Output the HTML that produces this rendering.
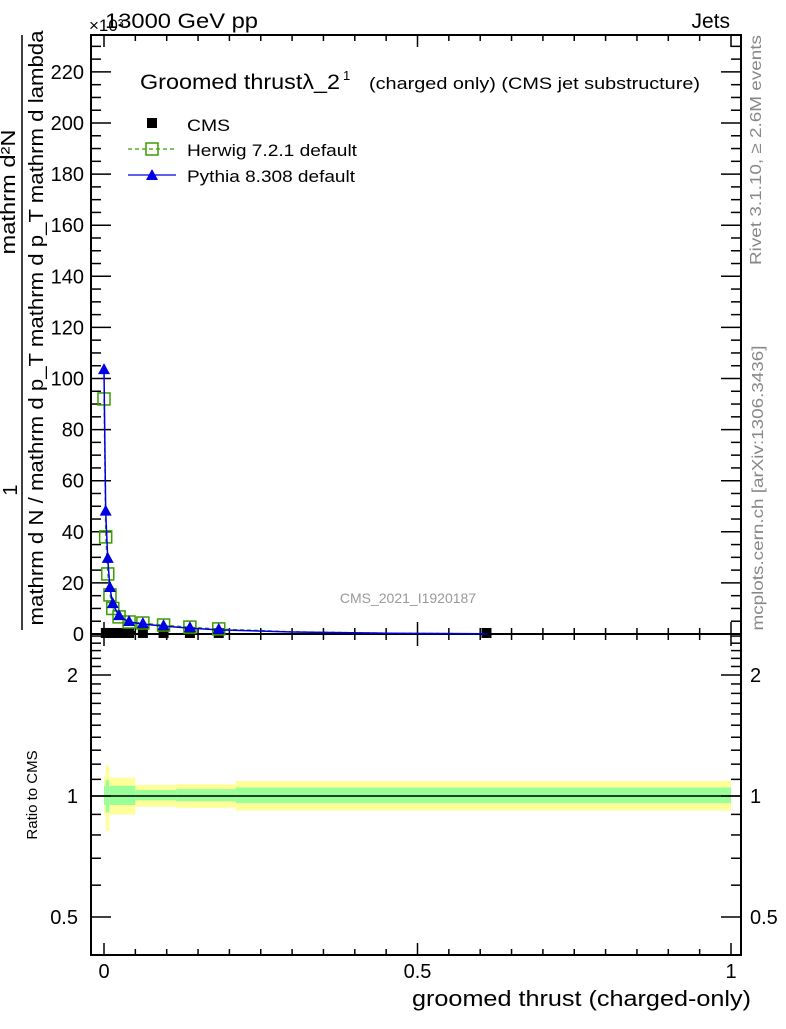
<!DOCTYPE html>
<html><head><meta charset="utf-8"><style>
body{margin:0;background:#fff;width:786px;height:1024px;overflow:hidden}
svg text{font-family:"Liberation Sans",sans-serif}
</style></head><body>
<svg id="c" width="786" height="1024">
<rect x="91" y="35" width="650" height="920" fill="none" stroke="#000" stroke-width="2"/>
<line x1="91" y1="634" x2="741" y2="634" stroke="#000" stroke-width="2"/>
<g id="ratioBands"></g>
<line id="ratioOne" x1="91" x2="741" stroke="#000" stroke-width="1.5"/>
<g id="axes"></g>
<g id="series"></g>
<text x="105" y="28" font-size="21" textLength="153" lengthAdjust="spacingAndGlyphs">13000 GeV pp</text>
<text x="89" y="31" font-size="17">×10³</text>
<text x="730" y="28" font-size="21" text-anchor="end">Jets</text>
<text x="140" y="89" font-size="21" textLength="200" lengthAdjust="spacingAndGlyphs">Groomed thrustλ_2</text>
<text x="343" y="80" font-size="13">1</text>
<text x="369" y="89" font-size="17" textLength="331" lengthAdjust="spacingAndGlyphs">(charged only) (CMS jet substructure)</text>
<g>
<rect x="147" y="118" width="10" height="10" fill="#000"/>
<text x="187" y="131" font-size="17" textLength="43" lengthAdjust="spacingAndGlyphs">CMS</text>
<line x1="128" x2="176" y1="149" y2="149" stroke="#3a9d00" stroke-dasharray="4,3" stroke-width="1.2"/>
<rect x="146" y="143" width="12" height="12" fill="none" stroke="#3a9d00" stroke-width="1.5"/>
<text x="187" y="156" font-size="17" textLength="170" lengthAdjust="spacingAndGlyphs">Herwig 7.2.1 default</text>
<line x1="128" x2="176" y1="175" y2="175" stroke="#0000e0" stroke-width="1.2"/>
<polygon points="152,169 158,180 146,180" fill="#0000e0"/>
<text x="187" y="182" font-size="17" textLength="168" lengthAdjust="spacingAndGlyphs">Pythia 8.308 default</text>
</g>
<text x="408" y="603" font-size="14" fill="#999" text-anchor="middle">CMS_2021_I1920187</text>
<text transform="translate(761,150) rotate(-90)" font-size="16" fill="#888" text-anchor="middle" textLength="230" lengthAdjust="spacingAndGlyphs">Rivet 3.1.10, ≥ 2.6M events</text>
<text transform="translate(763,488) rotate(-90)" font-size="16" fill="#888" text-anchor="middle" textLength="285" lengthAdjust="spacingAndGlyphs">mcplots.cern.ch [arXiv:1306.3436]</text>
<g>
<text transform="translate(17,490) rotate(-90)" font-size="20" text-anchor="middle">1</text>
<line x1="22" x2="22" y1="35" y2="630" stroke="#000" stroke-width="1.5"/>
<text transform="translate(43,328) rotate(-90)" font-size="20" text-anchor="middle" textLength="595" lengthAdjust="spacingAndGlyphs">mathrm d N / mathrm d p_T mathrm d p_T mathrm d lambda</text>
<text transform="translate(15,192) rotate(-90)" font-size="20" text-anchor="middle" textLength="125" lengthAdjust="spacingAndGlyphs">mathrm d²N</text>
</g>
<text transform="translate(37,795) rotate(-90)" font-size="15" text-anchor="middle">Ratio to CMS</text>
<text x="751" y="1006" font-size="22" text-anchor="end" textLength="339" lengthAdjust="spacingAndGlyphs">groomed thrust (charged-only)</text>
</svg>
<script>
const mcX = [0.0, 0.0027, 0.006, 0.0095, 0.014, 0.024, 0.04, 0.062, 0.095, 0.137, 0.183, 0.3, 0.45, 0.61];
const pythiaY = [103.3, 47.9, 29.4, 18.0, 11.7, 7.0, 4.7, 3.9, 3.1, 2.3, 1.6, 0.8, 0.3, 0.1];
const herwigY = [92, 38, 23.5, 15.3, 10.0, 6.7, 4.7, 4.3, 3.5, 2.7, 2.0, 0.9, 0.35, 0.12];
const cmsX = [0.003, 0.01, 0.02, 0.03, 0.04, 0.062, 0.095, 0.137, 0.183, 0.61];
const cmsY = [0.4, 0.4, 0.4, 0.4, 0.4, 0.4, 0.4, 0.4, 0.4, 0.4];
const binEdges = [0.0, 0.0027, 0.0085, 0.05, 0.115, 0.21, 1.0];
const yellowHi = [1.12, 1.19, 1.11, 1.065, 1.07, 1.09];
const yellowLo = [0.9, 0.82, 0.90, 0.94, 0.935, 0.92];
const greenHi = [1.06, 1.095, 1.06, 1.035, 1.04, 1.05];
const greenLo = [0.95, 0.91, 0.95, 0.975, 0.97, 0.96];
const xTicks = [0, 0.5, 1];
const xTickLabels = ["0", "0.5", "1"];
const yTicks = [0, 20, 40, 60, 80, 100, 120, 140, 160, 180, 200, 220];
const rTicks = [0.5, 1, 2];
const rTickLabels = ["0.5", "1", "2"];

const NS = "http://www.w3.org/2000/svg";
const X = v => 104 + 627 * v;
const Y = v => 634 - 2.555 * v;
const R = v => 796 - 121 * Math.log2(v);
function mk(tag, attrs, parent) {
  const e = document.createElementNS(NS, tag);
  for (const k in attrs) e.setAttribute(k, attrs[k]);
  parent.appendChild(e);
  return e;
}
const axes = document.getElementById('axes');
const series = document.getElementById('series');
const bands = document.getElementById('ratioBands');
document.getElementById('ratioOne').setAttribute('y1', R(1));
document.getElementById('ratioOne').setAttribute('y2', R(1));

for (let i = 0; i < yellowHi.length; i++) {
  const x0 = X(binEdges[i]), x1 = X(binEdges[i + 1]);
  const y = mk('rect', {x: x0, width: x1 - x0, y: R(yellowHi[i]), height: R(yellowLo[i]) - R(yellowHi[i]), fill: '#ffff99'}, bands);
  
  
  const g = mk('rect', {x: x0, width: x1 - x0, y: R(greenHi[i]), height: R(greenLo[i]) - R(greenHi[i]), fill: '#99ff99'}, bands);
  
  
}

for (let v = 0; v <= 1.0001; v += 0.05) {
  const major = Math.abs(v * 2 - Math.round(v * 2)) < 1e-6;
  const len = major ? 12 : 6;
  mk('line', {x1: X(v), x2: X(v), y1: 955, y2: 955 - len, stroke: '#000', 'stroke-width': 1.5}, axes);
  mk('line', {x1: X(v), x2: X(v), y1: 634, y2: 634 - len, stroke: '#000', 'stroke-width': 1.5}, axes);
  mk('line', {x1: X(v), x2: X(v), y1: 634, y2: 634 + len, stroke: '#000', 'stroke-width': 1.5}, axes);
  mk('line', {x1: X(v), x2: X(v), y1: 35, y2: 35 + len, stroke: '#000', 'stroke-width': 1.5}, axes);
}
xTicks.forEach((v, i) => {
  const t = mk('text', {x: X(v), y: 978, 'font-size': 20, 'text-anchor': 'middle'}, axes);
  t.textContent = xTickLabels[i];
  
  
});
for (let v = 0; v <= 234; v += 5) {
  const major = v % 20 === 0;
  const len = major ? 20 : 10;
  mk('line', {x1: 91, x2: 91 + len, y1: Y(v), y2: Y(v), stroke: '#000', 'stroke-width': 1.5}, axes);
  mk('line', {x1: 741, x2: 741 - len, y1: Y(v), y2: Y(v), stroke: '#000', 'stroke-width': 1.5}, axes);
}
yTicks.forEach(v => {
  const t = mk('text', {x: 84, y: Y(v) + 7, 'font-size': 20, 'text-anchor': 'end'}, axes);
  t.textContent = String(v);
  
  
});
for (const v of [0.5, 0.6, 0.7, 0.8, 0.9, 1, 1.1, 1.2, 1.3, 1.4, 1.5, 1.6, 1.7, 1.8, 1.9, 2, 2.1, 2.2, 2.3, 2.4, 2.5]) {
  const major = rTicks.includes(v);
  const len = major ? 20 : 10;
  mk('line', {x1: 91, x2: 91 + len, y1: R(v), y2: R(v), stroke: '#000', 'stroke-width': 1.5}, axes);
  mk('line', {x1: 741, x2: 741 - len, y1: R(v), y2: R(v), stroke: '#000', 'stroke-width': 1.5}, axes);
}
rTicks.forEach((v, i) => {
  const t = mk('text', {x: 78, y: R(v) + 7, 'font-size': 20, 'text-anchor': 'end'}, axes);
  t.textContent = rTickLabels[i];
  
  
  const t2 = mk('text', {x: 750, y: R(v) + 7, 'font-size': 20}, axes);
  t2.textContent = rTickLabels[i];
  
  
});

mk('line', {x1: X(0), x2: X(0.05), y1: Y(cmsY[0]), y2: Y(cmsY[0]), stroke: '#000', 'stroke-width': 4}, series);
cmsX.forEach((v, i) => {
  const r = mk('rect', {x: X(v) - 5, y: Y(cmsY[i]) - 5, width: 10, height: 10, fill: '#000'}, series);
  
  
});
const hl = mk('polyline', {points: mcX.map((v, i) => X(v) + ',' + Y(herwigY[i])).join(' '), fill: 'none', stroke: '#3a9d00', 'stroke-dasharray': '4,3', 'stroke-width': 1.2}, series);


mcX.forEach((v, i) => {
  if (v > 0.2) return;
  const r = mk('rect', {x: X(v) - 6, y: Y(herwigY[i]) - 6, width: 12, height: 12, fill: 'none', stroke: '#3a9d00', 'stroke-width': 1.5}, series);
  
  
});
const pl = mk('polyline', {points: mcX.map((v, i) => X(v) + ',' + Y(pythiaY[i])).join(' '), fill: 'none', stroke: '#0000e0', 'stroke-width': 1.5}, series);


mcX.forEach((v, i) => {
  if (v > 0.2) return;
  const x = X(v), y = Y(pythiaY[i]);
  const p = mk('polygon', {points: `${x},${y - 7} ${x + 6},${y + 4} ${x - 6},${y + 4}`, fill: '#0000e0'}, series);
  
  
});
</script>
</body></html>
